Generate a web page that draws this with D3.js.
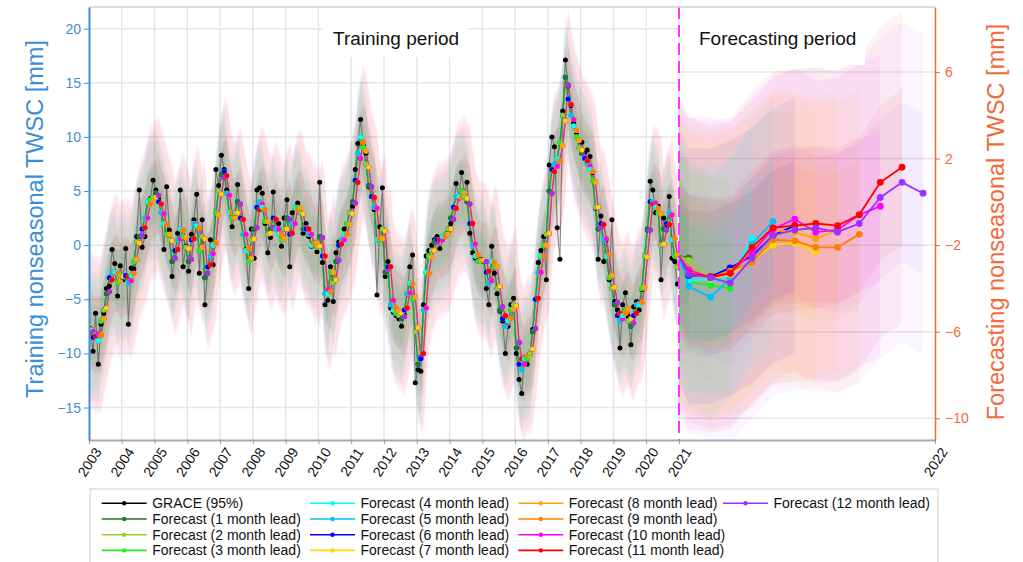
<!DOCTYPE html>
<html><head><meta charset="utf-8">
<script src="https://d3js.org/d3.v7.min.js"></script>
<style>
body{margin:0;background:#fff;}
text{font-family:"Liberation Sans", Arial, Helvetica, sans-serif;}
</style></head><body><svg id="chart" width="1023" height="562"></svg>
<script>
// ---------------- DATA ----------------
const yearTicks = [2003,2004,2005,2006,2007,2008,2009,2010,2011,2012,2013,2014,2015,2016,2017,2018,2019,2020,2021,2022];
const leftTicks = [-15,-10,-5,0,5,10,15,20];
const rightTicks = [-10,-6,-2,2,6];

// GRACE monthly nonseasonal TWSC, Jan 2003 - Dec 2020 (left axis, mm)
const graceTrain = [
 -7.7,-9.8,-6.3,-11.0,-7.3,-6.3,-4.0,-3.8,-0.4,-1.7,-4.7,-1.9,
 -3.2,-0.3,-7.3,-2.1,-2.2,0.8,5.1,-0.2,0.8,4.0,4.3,6.0,
 5.1,4.3,3.0,-0.4,5.4,1.4,-2.9,-1.2,1.1,5.1,-2.0,-0.1,
 -2.4,1.0,2.35,4.7,-2.6,2.35,-5.5,-2.6,0.5,-1.8,7.0,5.5,
 8.3,7.0,5.1,3.0,1.7,3.0,5.6,2.5,1.0,-0.4,-4.0,1.5,
 -1.2,5.1,5.3,4.8,2.0,-0.7,0.7,4.9,1.5,2.0,-0.1,2.5,
 4.2,-2.0,3.0,3.5,3.9,3.0,1.1,2.0,0.8,-0.1,0.2,-0.6,
 5.8,-1.6,-5.5,-5.1,-2.0,-5.2,-0.7,0.3,0.5,1.5,2.0,3.0,
 3.6,7.0,9.4,11.6,9.3,8.5,5.4,5.4,3.3,-4.6,1.7,5.3,
 -2.9,-1.5,-5.8,-6.2,-6.5,-6.8,-7.5,-6.4,-4.5,-2.0,-0.9,-12.7,
 -11.5,-11.65,-5.5,-1.0,-0.5,0.0,0.5,0.8,-0.3,0.5,1.0,1.2,
 2.0,3.5,5.7,4.5,6.7,4.8,5.8,1.1,-0.7,-1.2,-1.5,-1.3,
 -1.5,-4.0,-5.5,-0.1,-2.6,-4.5,-6.1,-7.0,-10.0,-7.5,-5.5,-4.9,
 -10.0,-12.4,-13.7,-10.4,-11.0,-10.2,-7.8,-5.0,-1.6,-0.5,0.8,-3.2,
 7.4,10.0,9.1,1.6,-1.3,12.4,17.1,14.7,12.9,11.3,10.4,9.7,
 9.5,8.5,8.8,8.2,6.7,3.4,-1.3,2.7,-1.5,0.5,-3.2,2.35,
 -5.2,-6.0,-9.5,-5.5,-4.4,-6.6,-9.2,-5.7,-5.2,-6.0,-4.1,-1.0,
 1.4,5.9,5.1,3.0,3.6,-3.2,2.5,1.7,4.5,-1.2,-1.5,-3.6
];

// Model fit in the training period, short leads 1-6 (left axis, mm)
const fitTrainShort = [
 -8.0,-8.5,-8.3,-8.8,-7.0,-6.0,-4.5,-3.0,-2.5,-2.5,-3.5,-2.8,
 -3.0,-2.8,-3.5,-2.8,-1.5,0.3,0.8,1.5,2.5,4.0,4.2,4.5,
 4.8,4.0,3.0,2.0,1.0,0.5,-1.5,-0.5,0.5,1.5,0.8,-0.2,
 -1.5,0.5,2.0,1.8,-0.5,0.8,-3.0,-2.0,-1.0,0.0,3.0,5.0,
 6.5,6.8,4.8,3.0,2.5,3.0,4.0,2.5,1.0,-0.5,-1.5,0.5,
 1.5,3.5,4.0,3.5,2.2,1.0,1.5,2.5,1.5,1.0,0.5,1.5,
 2.5,1.0,2.0,3.5,3.5,3.0,1.5,1.5,1.0,0.0,0.2,-0.2,
 0.8,-1.0,-4.5,-4.5,-2.5,-3.5,-1.5,0.0,0.5,1.0,2.0,3.0,
 4.0,6.0,8.5,10.0,9.0,7.5,5.5,4.5,3.5,0.5,0.5,1.5,
 -2.5,-2.0,-5.5,-6.0,-6.3,-6.5,-6.8,-6.0,-4.5,-3.5,-5.0,-8.0,
 -11.0,-10.5,-6.0,-2.5,-1.0,-0.5,0.3,0.5,0.5,0.8,1.0,1.5,
 2.5,3.5,4.5,4.5,5.0,4.5,4.0,2.0,0.0,-1.0,-1.5,-1.5,
 -1.5,-2.5,-3.5,-1.5,-2.0,-4.0,-6.0,-6.8,-7.5,-7.0,-6.0,-5.5,
 -9.5,-11.0,-11.5,-10.5,-10.5,-10.0,-8.0,-5.0,-2.5,-1.0,0.0,1.0,
 5.0,7.0,7.5,8.0,9.5,12.0,15.5,13.5,12.0,11.0,10.0,9.0,
 8.5,8.0,7.5,7.0,6.0,3.5,1.5,2.0,0.5,-1.0,-3.0,-4.0,
 -5.5,-6.5,-7.0,-6.5,-6.0,-7.0,-7.5,-6.5,-5.5,-5.5,-4.0,-1.0,
 1.5,4.0,4.0,3.5,3.0,0.0,1.5,2.0,3.0,0.5,-1.0,-2.0
];

// Model fit in the training period, long leads 7-12 (left axis, mm)
const fitTrainLong = [
 -7.8,-8.0,-8.4,-8.2,-8.3,-6.8,-5.8,-4.3,-3.2,-2.6,-2.6,-3.3,
 -2.9,-2.9,-2.9,-3.3,-2.6,-1.3,0.2,0.9,1.6,2.5,3.8,4.1,
 4.4,4.6,3.8,2.9,1.9,1.0,0.4,-1.2,-0.4,0.6,1.4,0.7,
 -0.3,-1.3,0.6,1.9,1.6,-0.2,0.6,-2.6,-1.8,-0.8,0.2,2.8,
 4.7,6.2,6.4,4.6,3.0,2.5,3.0,3.8,2.4,1.0,-0.3,-1.2,
 0.6,1.6,3.3,3.8,3.3,2.2,1.1,1.6,2.4,1.5,1.0,0.6,
 1.5,2.4,1.1,2.0,3.3,3.4,2.9,1.6,1.5,1.0,0.1,0.2,
 -0.1,0.7,-1.0,-4.1,-4.3,-2.5,-3.2,-1.4,0.1,0.5,1.0,1.9,
 2.9,3.9,5.8,8.0,9.5,8.7,7.2,5.4,4.4,3.4,0.7,0.6,
 1.3,-2.2,-2.0,-5.1,-5.8,-6.1,-6.3,-6.6,-5.8,-4.4,-3.6,-4.8,
 -7.6,-10.3,-10.0,-5.8,-2.6,-1.1,-0.5,0.3,0.5,0.5,0.8,1.0,
 1.5,2.4,3.4,4.3,4.4,4.8,4.3,3.8,2.0,0.1,-0.9,-1.4,
 -1.4,-1.5,-2.4,-3.3,-1.6,-2.0,-3.8,-5.7,-6.5,-7.2,-6.8,-5.9,
 -5.6,-9.0,-10.5,-11.0,-10.2,-10.2,-9.6,-7.7,-4.9,-2.5,-1.0,0.0,
 1.1,4.8,6.8,7.3,7.8,9.2,11.5,14.8,13.0,11.6,10.6,9.7,
 8.8,8.2,7.8,7.3,6.8,5.8,3.5,1.6,1.9,0.6,-0.9,-2.8,
 -3.9,-5.3,-6.3,-6.8,-6.3,-5.9,-6.8,-7.2,-6.3,-5.4,-5.3,-3.9,
 -1.1,1.4,3.8,3.9,3.4,2.9,0.1,1.4,1.9,2.8,0.6,-0.9
];

// Forecasts for 2021 (right axis, mm): lead k covers Jan..month k
const forecastStart = -2.5;
const lead1  = [-2.6];
const lead2  = [-2.7,-3.55];
const lead3  = [-3.7,-3.85,-4.0];
const lead4  = [-3.6,-3.6,-3.45,-1.7];
const lead5  = [-3.9,-4.4,-3.55,-1.95,-0.9];
const lead6  = [-3.4,-3.45,-3.05,-2.5,-1.55,-1.1];
const lead7  = [-3.3,-3.55,-3.35,-2.75,-2.0,-1.9,-2.3];
const lead8  = [-3.25,-3.5,-3.25,-2.2,-1.3,-1.4,-1.7,-1.3];
const lead9  = [-3.1,-3.5,-3.2,-2.8,-1.75,-1.8,-2.1,-2.1,-1.5];
const lead10 = [-3.15,-3.5,-3.3,-2.35,-1.25,-0.8,-1.4,-1.3,-0.6,-0.2];
const lead11 = [-3.3,-3.45,-3.3,-2.1,-1.2,-1.1,-1.0,-1.1,-0.6,0.9,1.6];
const lead12 = [-3.35,-3.5,-3.75,-2.6,-1.55,-1.3,-1.2,-1.4,-1.0,0.2,0.9,0.4];
const forecasts = [lead1,lead2,lead3,lead4,lead5,lead6,lead7,lead8,lead9,lead10,lead11,lead12];

// uncertainty half-widths per lead (mm)
const outerHalfWidth = [4.5,4.8,5.0,5.3,5.6,5.9,6.2,6.5,6.7,7.0,7.2,7.4];
const innerHalfWidth = [2.2,2.4,2.5,2.7,2.8,3.0,3.1,3.3,3.4,3.5,3.6,3.7];

const leadLabels = ["Forecast (1 month lead)","Forecast (2 month lead)","Forecast (3 month lead)","Forecast (4 month lead)",
 "Forecast (5 month lead)","Forecast (6 month lead)","Forecast (7 month lead)","Forecast (8 month lead)",
 "Forecast (9 month lead)","Forecast (10 month lead)","Forecast (11 month lead)","Forecast (12 month lead)"];
const leadColors = ["#1e7b1e","#9acd32","#22ee22","#00ffff","#00bfff","#0000ff","#ffd700","#ffa500","#ff8000","#ff00ff","#ff0000","#9933ff"];
const graceLabel = "GRACE (95%)";

// ---------------- CHART ----------------
const svg = d3.select('#chart');
const L=89, R=935, T=7, B=440;
const x = d3.scaleTime()
  .domain([new Date(2003,0,1), new Date(2021,0,1), new Date(2022,0,1)])
  .range([L, 679, R]);
const xSplit = x(new Date(2021,0,1));
const yL = d3.scaleLinear().domain([-18,22]).range([B,T]);
const yR = d3.scaleLinear().domain([-11,9]).range([B,T]);
const blue = "#3b8fd4", orange = "#f4693a";

svg.append('rect').attr('width',1023).attr('height',562).attr('fill','#fff');
const defs = svg.append('defs');
defs.append('clipPath').attr('id','plot').append('rect').attr('x',L).attr('y',T).attr('width',R-L).attr('height',B-T);

// gridlines
const grid = svg.append('g').attr('stroke','#e6e6e6').attr('stroke-width',1.5);
yearTicks.filter(yv => yv>2003 && yv<2021).forEach(yv=>{
  grid.append('line').attr('x1',x(new Date(yv,0,1))).attr('x2',x(new Date(yv,0,1))).attr('y1',T).attr('y2',B);
});
leftTicks.forEach(v=>grid.append('line').attr('x1',L).attr('x2',xSplit).attr('y1',yL(v)).attr('y2',yL(v)));
rightTicks.forEach(v=>grid.append('line').attr('x1',xSplit).attr('x2',R).attr('y1',yR(v)).attr('y2',yR(v)));

const plot = svg.append('g').attr('clip-path','url(#plot)');

// training rows per lead
const trainDates = graceTrain.map((_,i)=>new Date(2003,i,15));
const graceRows = graceTrain.map((g,i)=>({date:trainDates[i], v:g}));
const shortRows = fitTrainShort.map((v,i)=>({date:trainDates[i], v}));
const longRows  = fitTrainLong.map((v,i)=>({date:trainDates[i], v}));
const trainOf = k => k < 6 ? shortRows : longRows;

// training bands
const bandsG = plot.append('g');
for (let k=11;k>=0;k--){
  [outerHalfWidth[k], innerHalfWidth[k]].forEach(hw=>{
    bandsG.append('path').datum(trainOf(k))
      .attr('d', d3.area().x(d=>x(d.date)).y0(d=>yL(d.v-hw)).y1(d=>yL(d.v+hw)))
      .attr('fill', leadColors[k]).attr('fill-opacity',0.03);
  });
}
// forecast bands
const fcRows = forecasts.map(arr => [{date:new Date(2021,0,1), v:forecastStart}].concat(arr.map((v,j)=>({date:new Date(2021,j,15), v}))));
for (let k=11;k>=0;k--){
  [outerHalfWidth[k], innerHalfWidth[k]].forEach(hw=>{
    bandsG.append('path').datum(fcRows[k])
      .attr('d', d3.area().x(d=>x(d.date)).y0(d=>yR(d.v-hw)).y1(d=>yR(d.v+hw)))
      .attr('fill', leadColors[k]).attr('fill-opacity',0.05);
  });
}

// GRACE line
plot.append('path').datum(graceRows)
  .attr('d', d3.line().x(d=>x(d.date)).y(d=>yL(d.v)))
  .attr('fill','none').attr('stroke','#555').attr('stroke-opacity',0.7).attr('stroke-width',1.1);
// lead lines in training (long leads faint, short leads on top)
for (let k=6;k<12;k++){
  plot.append('path').datum(trainOf(k))
    .attr('d', d3.line().x(d=>x(d.date)).y(d=>yL(d.v)))
    .attr('fill','none').attr('stroke',leadColors[k]).attr('stroke-width',1.1).attr('stroke-opacity',0.45);
}
for (let k=5;k>=0;k--){
  plot.append('path').datum(trainOf(k))
    .attr('d', d3.line().x(d=>x(d.date)).y(d=>yL(d.v)))
    .attr('fill','none').attr('stroke',leadColors[k]).attr('stroke-width',1.1).attr('stroke-opacity',0.85);
}
plot.append('g').selectAll('circle').data(graceRows).join('circle')
  .attr('cx',d=>x(d.date)).attr('cy',d=>yL(d.v)).attr('r',2.5).attr('fill','#000');
// lead dots in training (draw order rotates month to month)
const dotG = plot.append('g');
trainDates.forEach((dt,i)=>{
  const groups = i % 2 ? [[6,7,8,9,10,11],[0,1,2,3,4,5]] : [[0,1,2,3,4,5],[6,7,8,9,10,11]];
  groups.forEach(g=>{
    for (let r=0;r<6;r++){
      const k = g[(i*5 + r + 1) % 6];
      const row = trainOf(k)[i];
      dotG.append('circle').attr('cx',x(row.date)).attr('cy',yL(row.v)).attr('r',2.5).attr('fill',leadColors[k]);
    }
  });
});

// forecast lines & dots
for (let k=0;k<12;k++){
  plot.append('path').datum(fcRows[k])
    .attr('d', d3.line().x(d=>x(d.date)).y(d=>yR(d.v)))
    .attr('fill','none').attr('stroke',leadColors[k]).attr('stroke-width',1.8);
  plot.append('g').selectAll('circle').data(fcRows[k].slice(1)).join('circle')
    .attr('cx',d=>x(d.date)).attr('cy',d=>yR(d.v)).attr('r',3.4).attr('fill',leadColors[k]);
}

// period labels
svg.append('rect').attr('x',323).attr('y',T+1).attr('width',145).attr('height',49).attr('fill','#fff');
svg.append('text').attr('x',333).attr('y',45).attr('font-size',19).attr('fill','#111').text('Training period');
svg.append('rect').attr('x',xSplit+2).attr('y',T+1).attr('width',184).attr('height',57).attr('fill','#fff');
svg.append('text').attr('x',699).attr('y',45).attr('font-size',19).attr('fill','#111').text('Forecasting period');

// dashed split line
svg.append('line').attr('x1',xSplit).attr('x2',xSplit).attr('y1',T).attr('y2',B)
  .attr('stroke','#ff33ff').attr('stroke-width',2).attr('stroke-dasharray','12,6');

// frame
svg.append('line').attr('x1',L).attr('x2',R).attr('y1',T).attr('y2',T).attr('stroke','#cfcfcf').attr('stroke-width',1.5);

// axes
const gx = svg.append('g').attr('transform',`translate(0,${B})`)
  .call(d3.axisBottom(x).tickValues(yearTicks.map(yv=>new Date(yv,0,1))).tickSize(4).tickSizeOuter(0).tickFormat(d3.timeFormat('%Y')));
gx.select('.domain').attr('stroke','#aaa').attr('stroke-width',2);
gx.selectAll('.tick line').attr('stroke','#999');
gx.selectAll('.tick text').attr('font-size',14).attr('fill','#111')
  .attr('text-anchor','middle').attr('dominant-baseline','central').attr('dy',null).attr('y',null)
  .attr('transform','translate(0,22) rotate(-57)');

const gl = svg.append('g').attr('transform',`translate(${L},0)`)
  .call(d3.axisLeft(yL).tickValues(leftTicks).tickSize(5).tickSizeOuter(0));
gl.select('.domain').attr('stroke',blue).attr('stroke-width',2);
gl.selectAll('.tick line').attr('stroke',blue);
gl.selectAll('.tick text').attr('font-size',14).attr('fill',blue);

const gr = svg.append('g').attr('transform',`translate(${R},0)`)
  .call(d3.axisRight(yR).tickValues(rightTicks).tickSize(5).tickSizeOuter(0));
gr.select('.domain').attr('stroke',orange).attr('stroke-width',1.5);
gr.selectAll('.tick line').attr('stroke',orange);
gr.selectAll('.tick text').attr('font-size',14).attr('fill',orange).attr('x',10);

// axis titles
svg.append('text').attr('transform','translate(43,219) rotate(-90)').attr('text-anchor','middle')
  .attr('font-size',23.5).attr('fill',blue).text('Training nonseasonal TWSC [mm]');
svg.append('text').attr('transform','translate(1004,222) rotate(-90)').attr('text-anchor','middle')
  .attr('font-size',23.5).attr('fill',orange).text('Forecasting nonseasonal TWSC [mm]');

// legend
const lg = svg.append('g');
lg.append('rect').attr('x',90).attr('y',489).attr('width',848).attr('height',90).attr('fill','#fff').attr('stroke','#d0d0d0');
const entries = [{label:graceLabel,color:'#000'}].concat(leadLabels.map((l,i)=>({label:l,color:leadColors[i]})));
const colX = [101.7, 310, 518.3, 723];
const rowY = [503.3, 519, 534.7, 550.4];
const colOf = i => i<4?0 : i<8?1 : i<12?2 : 3;
entries.forEach((e,i)=>{
  const c = colOf(i), r = i<4? i : i<8? i-4 : i<12? i-8 : 0;
  const x0 = colX[c], yy = rowY[r];
  lg.append('line').attr('x1',x0).attr('x2',x0+45).attr('y1',yy).attr('y2',yy).attr('stroke',e.color).attr('stroke-width',1.6);
  lg.append('circle').attr('cx',x0+22.5).attr('cy',yy).attr('r',2.2).attr('fill',e.color);
  lg.append('text').attr('x',x0+50.5).attr('y',yy).attr('dy','0.35em').attr('font-size',14).attr('fill','#111').text(e.label);
});
</script></body></html>
